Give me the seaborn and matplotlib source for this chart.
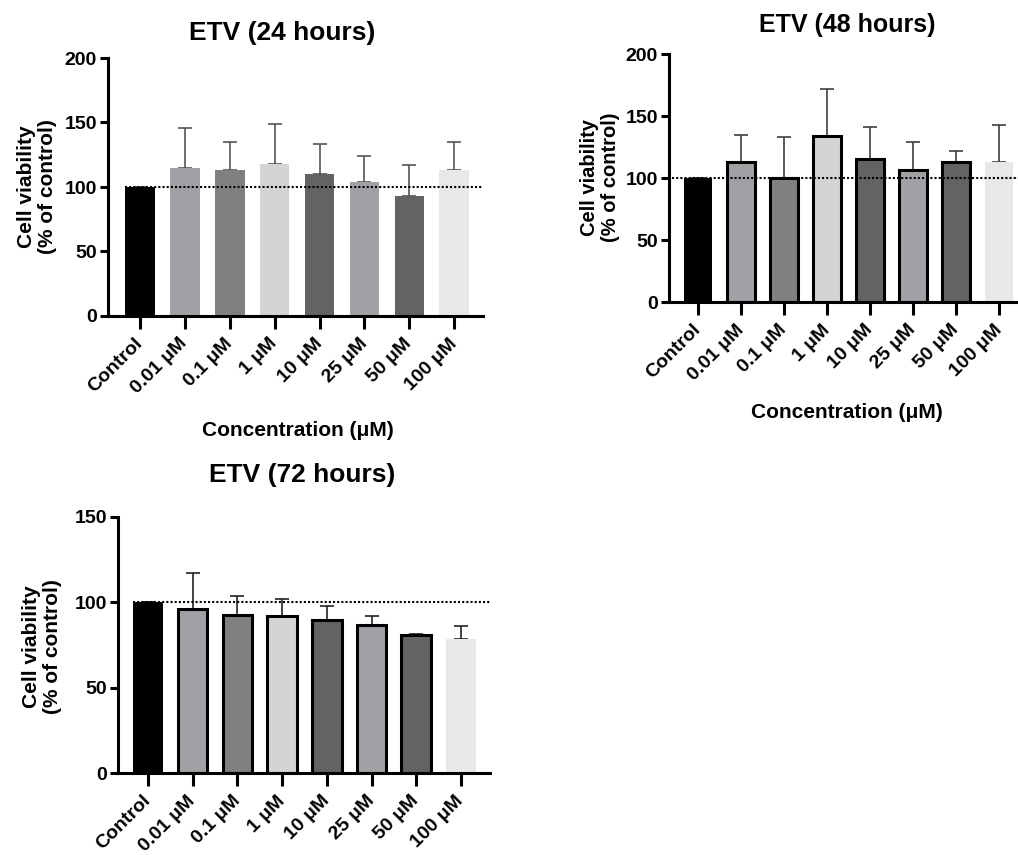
import matplotlib
matplotlib.use("Agg")
import matplotlib.pyplot as plt
import seaborn as sns
import pandas as pd

sns.set_style("white")
plt.rcParams["font.family"] = ["Liberation Sans", "DejaVu Sans"]
plt.rcParams["font.weight"] = "bold"
plt.rcParams["text.color"] = "black"
plt.rcParams["xtick.color"] = "black"
plt.rcParams["ytick.color"] = "black"

categories = ["Control", "0.01 μM", "0.1 μM", "1 μM", "10 μM", "25 μM", "50 μM", "100 μM"]
bar_colors = ["#000000", "#a1a1a5", "#808080", "#d4d4d4", "#636363", "#a1a1a5", "#636363", "#e8e8e8"]

# mean and upper SD for each time point
mean_24h = [100, 114.5, 113, 117.5, 110, 104, 93, 113]
sd_24h = [0, 31, 22, 31, 23, 20, 24, 22]

mean_48h = [100, 113, 100.5, 134, 115.6, 106.7, 113, 113]
sd_48h = [0, 22, 33, 38, 26, 22.3, 9, 30]

mean_72h = [100, 95.8, 92.7, 92.1, 89.6, 86.7, 80.6, 78.7]
sd_72h = [0, 21, 10.7, 9.8, 8, 5.1, 1, 7.6]

# which bars get a black outline
outlined_24h = [False] * 8
outlined_48h = [False, True, True, True, True, True, True, False]
outlined_72h = [False, True, True, True, True, True, True, False]

W, H = 1018, 855
fig = plt.figure(figsize=(W / 100, H / 100), dpi=100)


def px_axes(left, top, right, bottom):
    return fig.add_axes([left / W, 1 - bottom / H, (right - left) / W, (bottom - top) / H])


def panel(ax, means, sds, outlined, ymax, yticks, xlim, err_color, line_start):
    df = pd.DataFrame({"cond": categories, "val": means})
    sns.barplot(data=df, x="cond", y="val", hue="cond", order=categories,
                hue_order=categories, palette=bar_colors, legend=False,
                width=0.66, errorbar=None, ax=ax, zorder=2)
    for patch, edge in zip(ax.patches, outlined):
        if edge:
            patch.set_edgecolor("black")
            patch.set_linewidth(2.2)
        else:
            patch.set_linewidth(0)
    xs = list(range(len(categories)))
    ax.errorbar(xs, means, yerr=[[0] * len(sds), sds], fmt="none",
                ecolor=err_color, elinewidth=1.2, capsize=5, capthick=1.2, zorder=1.5)
    ax.plot([line_start, xlim[1]], [100, 100], ls=(0, (1, 1)), color="black",
            lw=1.5, zorder=5, clip_on=False)
    ax.set_xlim(*xlim)
    ax.set_ylim(0, ymax)
    ax.set_yticks(yticks)
    ax.set_xlabel("")
    ax.set_ylabel("")
    sns.despine(ax=ax)
    for s in ["left", "bottom"]:
        ax.spines[s].set_linewidth(2.2)
        ax.spines[s].set_color("black")
    ax.tick_params(axis="y", length=6, width=2.2, direction="out", left=True,
                   labelsize=14, pad=2, colors="black")
    ax.tick_params(axis="x", length=9, width=2.2, direction="out", bottom=True,
                   labelsize=14, pad=9, colors="black")
    ax.set_xticks(xs)
    ax.set_xticklabels(categories, rotation=45, ha="right", va="center",
                       rotation_mode="anchor", fontweight="bold")
    for t in ax.get_yticklabels():
        t.set_fontweight("bold")


ax1 = px_axes(108, 58, 483, 316)
panel(ax1, mean_24h, sd_24h, outlined_24h, 200, [0, 50, 100, 150, 200],
      (-0.71, 7.64), "#555555", -0.33)

ax2 = px_axes(669, 54.3, 1030, 302.3)
panel(ax2, mean_48h, sd_48h, outlined_48h, 200, [0, 50, 100, 150, 200],
      (-0.674, 7.72), "#404040", -0.6)

ax3 = px_axes(118, 516.7, 490, 773.3)
panel(ax3, mean_72h, sd_72h, outlined_72h, 150, [0, 50, 100, 150],
      (-0.67, 7.65), "#222222", -0.33)


def ftext(x, y, s, **kw):
    fig.text(x / W, 1 - y / H, s, ha="center", va="center", fontweight="bold", **kw)


ftext(282, 33, "ETV (24 hours)", fontsize=19)
ftext(847, 25, "ETV (48 hours)", fontsize=18)
ftext(302, 475, "ETV (72 hours)", fontsize=19)

ylab = "Cell viability\n(% of control)"
ftext(37, 187, ylab, fontsize=15, rotation=90, linespacing=1.1)
ftext(600, 177, ylab, fontsize=14.5, rotation=90, linespacing=1.1)
ftext(42, 647, ylab, fontsize=15, rotation=90, linespacing=1.1)

ftext(298, 430, "Concentration (μM)", fontsize=15)
ftext(847, 412, "Concentration (μM)", fontsize=15)

fig.savefig("out.png", dpi=100)
